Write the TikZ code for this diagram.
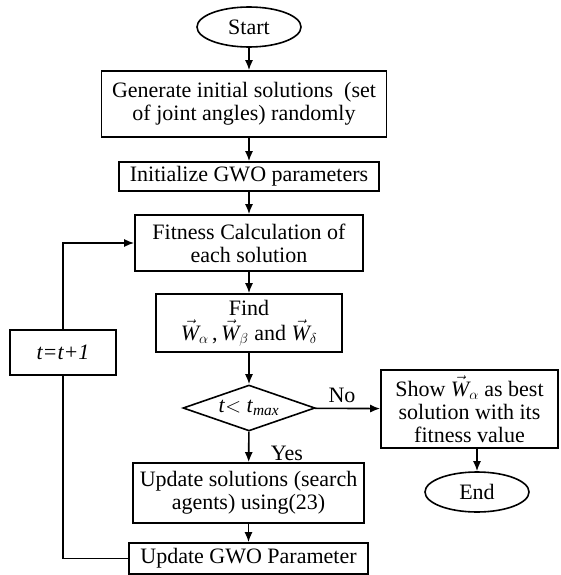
\documentclass[tikz,border=0pt]{standalone}
\usepackage{amsmath}
\usepackage{fontspec}
\setmainfont{Liberation Serif}
\usetikzlibrary{shapes.geometric,arrows.meta}

\tikzset{
  blk/.style={draw, line width=1.6pt, inner sep=0pt, align=center, font=\fontsize{22}{23}\selectfont},
  term/.style={blk, ellipse},
  cond/.style={blk, diamond, aspect=2},
  flow/.style={line width=1.6pt, -{Latex[length=10pt,width=8pt]}},
  link/.style={line width=1.6pt},
  lbl/.style={inner sep=0pt, font=\fontsize{22}{23}\selectfont}
}
\newcommand{\Wv}{\vec{\textit{W}}}

\begin{document}
\begin{tikzpicture}[x=1pt,y=1pt,yscale=-1]
	\useasboundingbox (0,0) rectangle (560,575);
	\node [term, minimum width=104pt, minimum height=40pt] (start) at (249,27) {Start};
	\node [blk, minimum width=285pt, minimum height=66pt] (gen) at (244,104) {Generate initial solutions \ (set\\of joint angles) randomly};
	\node [blk, minimum width=260pt, minimum height=29pt] (init) at (249,176.5) {Initialize GWO parameters};
	\node [blk, minimum width=228pt, minimum height=56pt] (fit) at (249,243) {Fitness Calculation of\\each solution};
	\node [blk, minimum width=186pt, minimum height=58pt] (find) at (249,323) {Find\\[2pt]$\Wv_{\alpha}\,$,$\,\Wv_{\beta}$ and $\Wv_{\delta}$};
	\node [cond, minimum width=132pt] (chk) at (249,408) {\textit{t}$<$ \textit{t}$_{\textit{max}}$};
	\node [blk, minimum width=177pt, minimum height=78pt] (show) at (469.5,409) {Show $\Wv_{\alpha}$ as best\\solution with its\\fitness value};
	\node [term, minimum width=104pt, minimum height=40pt] (done) at (477,492) {End};
	\node [blk, minimum width=231pt, minimum height=60pt] (upd) at (248.5,493) {Update solutions (search\\agents) using(23)};
	\node [blk, minimum width=239pt, minimum height=31pt] (par) at (248.5,558.5) {Update GWO Parameter};
	\node [blk, minimum width=106pt, minimum height=45pt] (tinc) at (63,352.5) {\textit{t=t+1}};

	\draw [flow] (start) -- (start |- gen.north);
	\draw [flow] (gen.south -| init.north) -- (init);
	\draw [flow] (init) -- (fit);
	\draw [flow] (fit) -- (find);
	\draw [flow] (find) -- (chk);
	\draw [flow] (chk) -- (upd);
	\draw [flow] (upd) -- (par);
	\draw [flow] (chk) -- (show);
	\draw [flow] (show.south -| done.north) -- (done);
	\draw [link] (par.west) -| (tinc.south);
	\draw [flow] (tinc.north) |- (fit.west);

	\node [lbl] (no) at (342,395) {No};
	\node [lbl] (yes) at (287,453) {Yes};
\end{tikzpicture}
\end{document}
